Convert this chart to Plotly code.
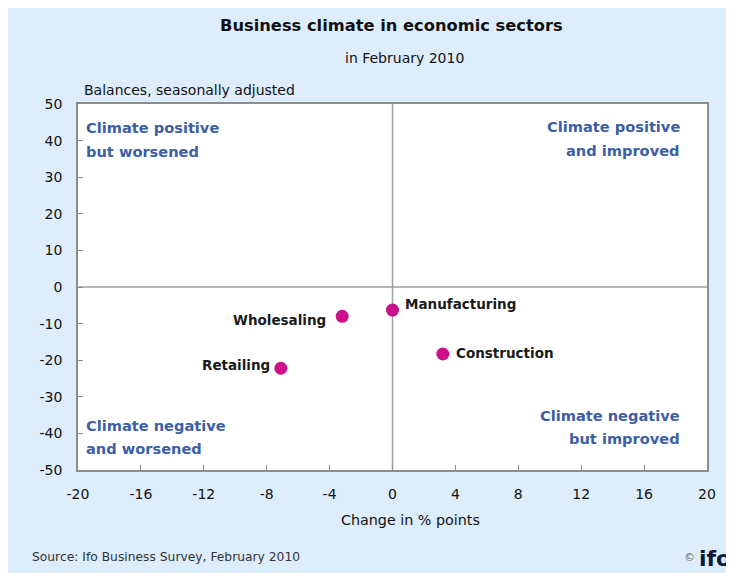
import plotly.graph_objects as go

sectors = ["Manufacturing", "Wholesaling", "Retailing", "Construction"]
change = [0.0, -3.2, -7.1, 3.2]
balance = [-6.3, -8.0, -22.2, -18.3]
label_side = ["right", "left", "left", "right"]
label_dx = [10, -14, -9, 11]
label_dy = [6, -4, 3, 1]

x_ticks = [-20, -16, -12, -8, -4, 0, 4, 8, 12, 16, 20]
y_ticks = [-50, -40, -30, -20, -10, 0, 10, 20, 30, 40, 50]

quadrant_lines = [
    ("Climate positive", "but worsened", "left", 84, 128),
    ("Climate positive", "and improved", "right", 682, 127),
    ("Climate negative", "and worsened", "left", 84, 425),
    ("Climate negative", "but improved", "right", 682, 415),
]

OFF = 8  # page body margin
W, H = 734 - OFF, 573 - OFF
# plot area in reference-picture pixels
L, R, T, B = 78, 707, 104, 470
pw, ph = R - L, B - T

def px(x):
    return (x - L) / pw

def py(y):
    return 1 - (y - T) / ph

FONT = "DejaVu Sans, Liberation Sans, Arial, sans-serif"
BLUE_BG = "#ddedfc"
QBLUE = "#3c5fa6"

fig = go.Figure()
fig.add_trace(go.Scatter(
    x=change, y=balance, mode="markers",
    marker=dict(size=13, color="#cc0f8a"),
    hoverinfo="text", text=sectors, showlegend=False,
))

annotations = []
for s, cx, cy, side, dx, dy in zip(sectors, change, balance, label_side, label_dx, label_dy):
    annotations.append(dict(
        x=cx, y=cy, xref="x", yref="y", text=s, showarrow=False,
        xanchor="left" if side == "right" else "right",
        xshift=dx, yshift=dy,
        font=dict(family=FONT, size=13.5, color="#1a1a1a", weight="bold"),
    ))

for l1, l2, h, x0, y0 in quadrant_lines:
    for i, t in enumerate((l1, l2)):
        annotations.append(dict(
            x=px(x0), y=py(y0 + 23 * i), xref="paper", yref="paper", text=t,
            showarrow=False, xanchor=h, yanchor="middle",
            font=dict(family=FONT, size=14.6, color=QBLUE, weight="bold"),
        ))

annotations += [
    dict(x=px(391), y=py(25), xref="paper", yref="paper", showarrow=False,
         text="Business climate in economic sectors", xanchor="center", yanchor="middle",
         font=dict(family=FONT, size=16.3, color="#111", weight="bold")),
    dict(x=px(404), y=py(58), xref="paper", yref="paper", showarrow=False,
         text="in February 2010", xanchor="center", yanchor="middle",
         font=dict(family=FONT, size=14, color="#111")),
    dict(x=px(82), y=py(90), xref="paper", yref="paper", showarrow=False,
         text="Balances, seasonally adjusted", xanchor="left", yanchor="middle",
         font=dict(family=FONT, size=14, color="#111")),
    dict(x=px(410), y=py(520), xref="paper", yref="paper", showarrow=False,
         text="Change in % points", xanchor="center", yanchor="middle",
         font=dict(family=FONT, size=14.3, color="#111")),
    dict(x=px(30), y=py(557), xref="paper", yref="paper", showarrow=False,
         text="Source: Ifo Business Survey, February 2010", xanchor="left", yanchor="middle",
         font=dict(family=FONT, size=12.3, color="#333")),
    dict(x=px(697), y=py(557), xref="paper", yref="paper", showarrow=False,
         text="©", xanchor="right", yanchor="middle",
         font=dict(family=FONT, size=11, color="#666")),
    dict(x=px(733), y=py(558), xref="paper", yref="paper", showarrow=False,
         text="ifo", xanchor="right", yanchor="middle",
         font=dict(family=FONT, size=22, color="#0b1a3a", weight="bold")),
]

shapes = [
    dict(type="line", xref="x", yref="paper", x0=0, x1=0, y0=0, y1=1,
         line=dict(color="#a0a0a0", width=1.5), layer="below"),
    dict(type="line", xref="paper", yref="y", x0=0, x1=1, y0=0, y1=0,
         line=dict(color="#a0a0a0", width=1.5), layer="below"),
]

axis_common = dict(
    showgrid=False, zeroline=False, showline=True, linecolor="#8c8c8c", linewidth=1.5,
    mirror=True, ticks="inside", ticklen=5, tickcolor="#8c8c8c",
    tickfont=dict(family=FONT, size=14, color="#111"),
)

fig.update_layout(
    width=W, height=H,
    margin=dict(l=L - OFF, r=W - (R - OFF), t=T - OFF, b=H - (B - OFF), pad=0),
    paper_bgcolor=BLUE_BG, plot_bgcolor="white",
    xaxis=dict(range=[-20, 20], tickvals=x_ticks, ticktext=[str(v) for v in x_ticks],
               ticklabelstandoff=10, **axis_common),
    yaxis=dict(range=[-50, 50], tickvals=y_ticks, ticktext=[str(v) for v in y_ticks],
               ticklabelstandoff=11, **axis_common),
    annotations=annotations, shapes=shapes,
)

fig.write_html("out.html")
